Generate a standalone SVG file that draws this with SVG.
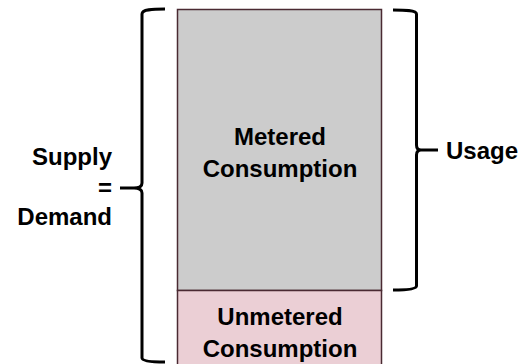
<svg xmlns="http://www.w3.org/2000/svg" width="526" height="364" viewBox="0 0 526 364">
<style>
.box{stroke:#4a2a32;stroke-width:1.5}
.brace{fill:none;stroke:#000;stroke-width:3;stroke-linejoin:round}
text{font-family:"Liberation Sans",Arial,sans-serif;font-weight:bold;font-size:24px;fill:#000}
</style>
<rect width="526" height="364" fill="#fff"/>
<g id="metered">
<rect class="box" x="177.5" y="9.5" width="204" height="281" fill="#cccccc"/>
<text x="280" y="145" text-anchor="middle">Metered</text>
<text x="280" y="176.5" text-anchor="middle">Consumption</text>
</g>
<g id="unmetered">
<rect class="box" x="177.5" y="290.5" width="204" height="80" fill="#ebcfd5"/>
<text x="280" y="324.5" text-anchor="middle">Unmetered</text>
<text x="280" y="356.5" text-anchor="middle">Consumption</text>
</g>
<g id="connectors">
<path class="brace" d="M165,9 C152,9 142,9.5 142,14 V183 C142,186 139,188 134,188 H120 M134,188 C139,188 142,190 142,193 V358 C142,361 152,362 165,362"/>
<path class="brace" d="M393,10 C404,10 416.5,10 416.5,14 V145 C416.5,148 418,150 421,150 H438 M421,150 C418,150 416.5,152 416.5,155 V286 C416.5,289.5 404,290 393,290"/>
</g>
<g id="supply-demand">
<text x="112" y="165" text-anchor="end">Supply</text>
<text x="112" y="196" text-anchor="end">=</text>
<text x="112" y="225" text-anchor="end">Demand</text>
</g>
<g id="usage">
<text x="446" y="159">Usage</text>
</g>
</svg>
